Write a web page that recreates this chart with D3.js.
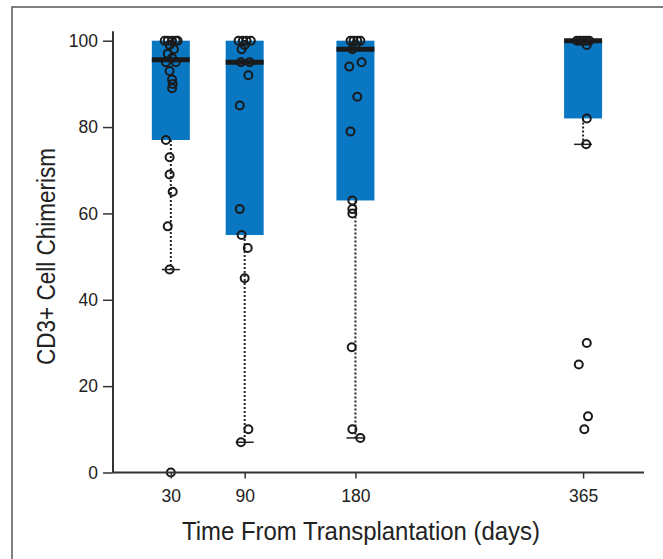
<!DOCTYPE html>
<html>
<head>
<meta charset="utf-8">
<script src="https://cdn.jsdelivr.net/npm/d3@7"></script>
<style>
  body { margin: 0; background: #fff; }
  text { font-family: "Liberation Sans", Arial, sans-serif; fill: #222; }
</style>
</head>
<body>
<svg id="chart" width="663" height="559"></svg>
<script>
// time points (days) and box stats
var days = [30, 90, 180, 365];
var q1 = [77, 55, 63, 82];
var median = [95.6, 95, 98, 100];
var q3 = [100, 100, 100, 100];
var whiskerLow = [47, 7, 8, 76];

// individual patients per time point, plus a small horizontal jitter (days)
var pts30 = [100,100,100,100,100,99,98,97,96,95,95,93,91,90,89,77,73,69,65,57,47,0];
var jit30 = [-5,-2.5,1,4,5.5,-1,2.5,-2.5,1,-4,4,-1,1,1.5,1,-4,-1,-1,1.5,-2.5,-1,0];
var pts90 = [100,100,100,100,99,98,95,95,92,85,61,55,52,45,10,7];
var jit90 = [-5,-1.5,1.5,5,0,-2.5,-3,4,3,-4,-4,-2.5,2.5,0,3,-3];
var pts180 = [100,100,100,100,99,98,95,94,87,79,63,61,60,29,10,8];
var jit180 = [-4,-1.5,1.5,4,0,-2.5,5,-5,1.5,-4,-2.5,-2.5,-2.5,-3,-2.5,4];
var pts365 = [100,100,100,100,100,99,82,76,30,25,13,10];
var jit365 = [-5,-2.5,0,2.5,5,3,3,2.5,3,-3.5,4,1];

var yTicks = [0, 20, 40, 60, 80, 100];

var points = [pts30, pts90, pts180, pts365];
var jitter = [jit30, jit90, jit180, jit365];

var svg = d3.select("#chart");

var x = d3.scaleLinear().domain([-17, 414.5]).range([113, 644]);
var y = d3.scaleLinear().domain([0, 100]).range([472.5, 40.7]);
var boxW = 38;

// figure frame (top + left rule)
svg.append("path")
    .attr("d", "M12,559V7H663")
    .attr("fill", "none")
    .attr("stroke", "#555")
    .attr("stroke-width", 1.5);

var groups = svg.selectAll("g.box")
    .data(days)
  .enter().append("g")
    .attr("class", "box");

// dotted lower whiskers
groups.append("line")
    .attr("x1", function(d) { return x(d); })
    .attr("x2", function(d) { return x(d); })
    .attr("y1", function(d, i) { return y(q1[i]); })
    .attr("y2", function(d, i) { return y(whiskerLow[i]); })
    .attr("stroke", "#222")
    .attr("stroke-width", 2)
    .attr("stroke-dasharray", "2,2");

groups.append("line")
    .attr("x1", function(d) { return x(d) - 9; })
    .attr("x2", function(d) { return x(d) + 9; })
    .attr("y1", function(d, i) { return y(whiskerLow[i]); })
    .attr("y2", function(d, i) { return y(whiskerLow[i]); })
    .attr("stroke", "#222")
    .attr("stroke-width", 1.5);

groups.append("rect")
    .attr("x", function(d) { return x(d) - boxW / 2; })
    .attr("width", boxW)
    .attr("y", function(d, i) { return y(q3[i]); })
    .attr("height", function(d, i) { return y(q1[i]) - y(q3[i]); })
    .attr("fill", "#0a77c2");

groups.append("line")
    .attr("x1", function(d) { return x(d) - boxW / 2; })
    .attr("x2", function(d) { return x(d) + boxW / 2; })
    .attr("y1", function(d, i) { return y(median[i]); })
    .attr("y2", function(d, i) { return y(median[i]); })
    .attr("stroke", "#1a1a1a")
    .attr("stroke-width", 5);

// patient circles
groups.each(function(d, i) {
  d3.select(this).selectAll("circle")
      .data(points[i])
    .enter().append("circle")
      .attr("cx", function(v, j) { return x(d + jitter[i][j]); })
      .attr("cy", function(v) { return y(v); })
      .attr("r", 4)
      .attr("fill", "none")
      .attr("stroke", "#1a1a1a")
      .attr("stroke-width", 2);
});

// axes
var yAxis = svg.append("g")
    .attr("transform", "translate(113,0)")
    .call(d3.axisLeft(y).tickValues(yTicks).tickSize(10).tickPadding(5));
yAxis.select(".domain").attr("d", "M0," + y(102.2) + "V" + y(0));

var xAxis = svg.append("g")
    .attr("transform", "translate(0," + y(0) + ")")
    .call(d3.axisBottom(x).tickValues(days).tickSize(6).tickPadding(11));
xAxis.select(".domain").attr("d", "M113,0H644");

svg.selectAll(".domain").attr("stroke", "#333").attr("stroke-width", 2);
svg.selectAll(".tick line").attr("stroke", "#333").attr("stroke-width", 1.5);
svg.selectAll(".tick text").attr("font-size", 17.5).attr("font-family", null).style("fill", "#222");

// condensed look: squeeze Liberation Sans to the widths seen in the picture
svg.append("text")
    .attr("x", 361)
    .attr("y", 540)
    .attr("text-anchor", "middle")
    .attr("font-size", 26)
    .attr("textLength", 358)
    .attr("lengthAdjust", "spacingAndGlyphs")
    .text("Time From Transplantation (days)");

svg.append("text")
    .attr("transform", "translate(55,256.5) rotate(-90)")
    .attr("text-anchor", "middle")
    .attr("font-size", 26)
    .attr("textLength", 217)
    .attr("lengthAdjust", "spacingAndGlyphs")
    .text("CD3+ Cell Chimerism");
</script>
</body>
</html>
